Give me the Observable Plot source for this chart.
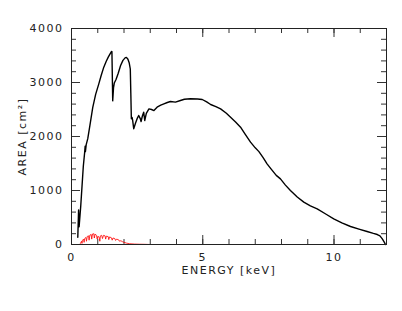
<!DOCTYPE html>
<html>
<head>
<meta charset="utf-8">
<script src="https://cdn.jsdelivr.net/npm/d3@7"></script>
<script src="https://cdn.jsdelivr.net/npm/@observablehq/plot@0.6"></script>
<style>
  html, body { margin: 0; padding: 0; background: #fff; }
</style>
</head>
<body>
<div id="chart"></div>
<script>
// Effective area (black) vs energy
const areaEnergy = [0.24,0.27,0.29,0.35,0.45,0.50,0.52,0.53,0.56,0.62,0.70,0.81,0.92,1.04,1.13,1.23,1.32,1.40,1.47,1.52,1.54,1.57,1.60,1.63,1.70,1.78,1.87,1.96,2.05,2.10,2.15,2.20,2.24,2.26,2.28,2.31,2.33,2.37,2.44,2.50,2.56,2.62,2.65,2.70,2.75,2.79,2.85,2.95,3.05,3.14,3.26,3.40,3.52,3.65,3.77,3.96,4.15,4.30,4.53,4.80,4.98,5.15,5.30,5.50,5.68,5.90,6.06,6.25,6.44,6.62,6.82,7.00,7.14,7.30,7.45,7.60,7.80,7.96,8.15,8.34,8.60,8.85,9.10,9.36,9.70,9.99,10.30,10.63,10.95,11.26,11.50,11.65,11.75,11.84,11.92,11.96];
const areaValue  = [135,640,330,700,1450,1700,1820,1720,1850,1960,2200,2540,2780,2975,3130,3284,3390,3469,3530,3570,3575,2660,2900,2990,3060,3170,3315,3410,3460,3462,3430,3360,3250,2800,2330,2350,2300,2143,2250,2330,2389,2330,2278,2380,2450,2296,2430,2512,2500,2481,2543,2580,2605,2630,2648,2636,2667,2690,2698,2695,2685,2640,2593,2555,2512,2430,2358,2270,2173,2040,1895,1790,1720,1610,1494,1400,1280,1216,1100,1000,880,784,715,660,560,476,400,333,285,241,205,185,160,105,40,0];

// Second (red) curve vs energy
const redEnergy = [0.30,0.34,0.38,0.40,0.42,0.46,0.48,0.50,0.55,0.57,0.60,0.65,0.67,0.70,0.75,0.77,0.80,0.85,0.87,0.90,0.95,0.98,1.00,1.05,1.08,1.10,1.15,1.18,1.22,1.28,1.30,1.33,1.40,1.42,1.45,1.52,1.55,1.58,1.65,1.68,1.72,1.80,1.83,1.88,1.95,2.00,2.10,2.20,2.40,2.60,2.80,3.00];
const redValue  = [0,20,60,20,80,100,40,110,130,60,150,160,80,175,185,100,195,200,120,195,170,100,150,140,60,160,170,110,170,160,100,155,145,90,140,125,80,120,110,75,100,85,60,70,50,40,25,15,8,5,3,0];

// Ticks
const xMinorTicks = d3.range(0, 13, 1);
const xMajorTicks = [0, 5, 10];
const yMinorTicks = d3.range(0, 4001, 200);
const yMajorTicks = [0, 1000, 2000, 3000, 4000];

const xLabel = "ENERGY [keV]";
const yLabel = "AREA [cm²]";

const black = areaEnergy.map((e, i) => ({energy: e, area: areaValue[i]}));
const red = redEnergy.map((e, i) => ({energy: e, area: redValue[i]}));

const W = 402, H = 311, ML = 71, MR = 16, MT = 28, MB = 67;
const FW = W - ML - MR, FH = H - MT - MB;
const minorLen = 5, majorLen = 9;
const tickColor = "#333";

const chart = Plot.plot({
  width: W,
  height: H,
  marginLeft: ML,
  marginRight: MR,
  marginTop: MT,
  marginBottom: MB,
  style: {fontFamily: "DejaVu Sans", fontSize: "11px", letterSpacing: "1.5px", background: "#fff"},
  x: {domain: [0, 12], axis: null},
  y: {domain: [0, 4000], axis: null},
  marks: [
    // inward ticks on all four sides
    Plot.tickX(xMinorTicks, {x: d => d, insetTop: FH - minorLen, stroke: tickColor, strokeWidth: 1}),
    Plot.tickX(xMajorTicks, {x: d => d, insetTop: FH - majorLen, stroke: tickColor, strokeWidth: 1}),
    Plot.tickX(xMinorTicks, {x: d => d, insetBottom: FH - minorLen, stroke: tickColor, strokeWidth: 1}),
    Plot.tickX(xMajorTicks, {x: d => d, insetBottom: FH - majorLen, stroke: tickColor, strokeWidth: 1}),
    Plot.tickY(yMinorTicks, {y: d => d, insetRight: FW - minorLen, stroke: tickColor, strokeWidth: 1}),
    Plot.tickY(yMajorTicks, {y: d => d, insetRight: FW - majorLen, stroke: tickColor, strokeWidth: 1}),
    Plot.tickY(yMinorTicks, {y: d => d, insetLeft: FW - minorLen, stroke: tickColor, strokeWidth: 1}),
    Plot.tickY(yMajorTicks, {y: d => d, insetLeft: FW - majorLen, stroke: tickColor, strokeWidth: 1}),
    // tick labels
    Plot.axisX({anchor: "bottom", ticks: xMajorTicks, tickSize: 0, tickPadding: 9, tickFormat: d => String(d), label: null, fill: "#222"}),
    Plot.axisY({anchor: "left", ticks: yMajorTicks, tickSize: 0, tickPadding: 8, tickFormat: d => String(d), label: null, fill: "#222"}),
    // axis titles
    Plot.text([xLabel], {frameAnchor: "bottom", dy: 26, lineAnchor: "middle", fill: "#222"}),
    Plot.text([yLabel], {frameAnchor: "left", dx: -49, rotate: -90, lineAnchor: "middle", textAnchor: "middle", fill: "#222"}),
    // data
    Plot.line(red, {x: "energy", y: "area", stroke: "#ff0000", strokeWidth: 0.8}),
    Plot.line(black, {x: "energy", y: "area", stroke: "#000", strokeWidth: 1.4}),
    Plot.frame({stroke: "#222", strokeWidth: 1})
  ]
});
document.getElementById("chart").appendChild(chart);
</script>
</body>
</html>
